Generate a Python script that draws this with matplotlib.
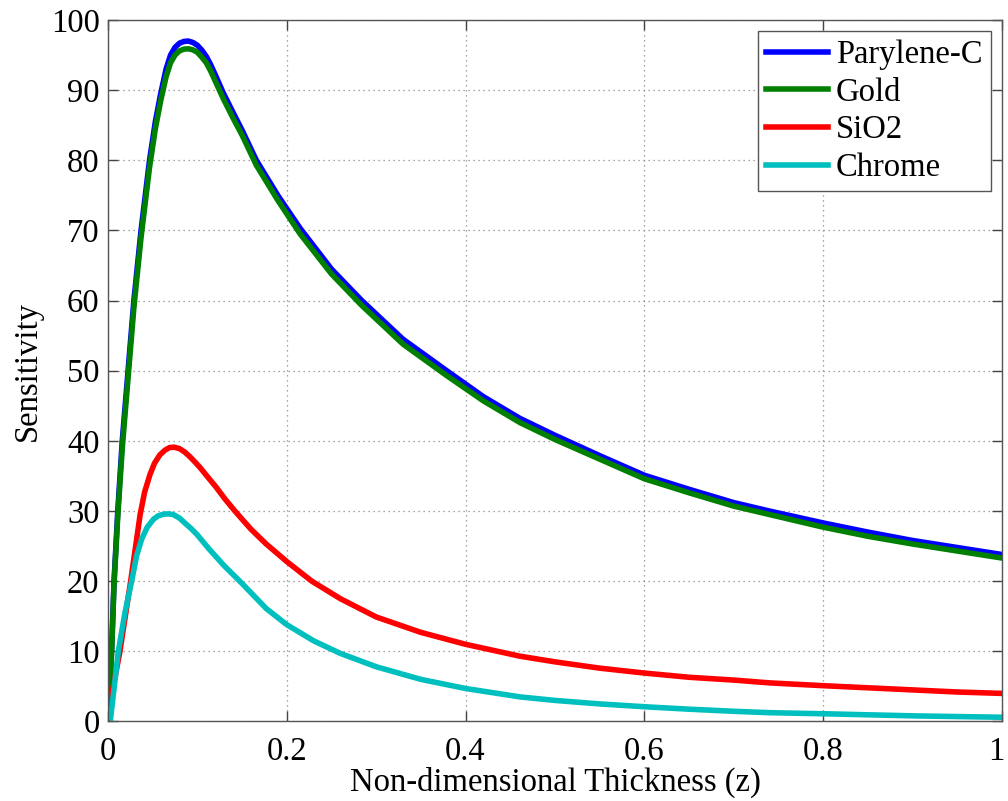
import numpy as np
import matplotlib
matplotlib.use('Agg')
import matplotlib.pyplot as plt
import matplotlib.transforms as mtransforms

# values
z_parylene = [0.0, 0.004, 0.0068, 0.011, 0.016, 0.0225, 0.029, 0.037, 0.0465, 0.053,
              0.059, 0.065, 0.07, 0.075, 0.08, 0.085, 0.09, 0.095, 0.10, 0.105,
              0.11, 0.115, 0.12, 0.129, 0.14, 0.15, 0.166, 0.19, 0.215, 0.25,
              0.284, 0.33, 0.379, 0.42, 0.461, 0.5, 0.55, 0.6, 0.65, 0.7, 0.74,
              0.8, 0.85, 0.9, 0.95, 1.0]
s_parylene = [0.0, 10, 20, 30, 40, 50, 60, 70, 80, 85.5,
              89.5, 93.0, 95.0, 96.1, 96.7, 96.95, 97.0, 96.8, 96.4, 95.7,
              94.8, 93.6, 92.2, 89.6, 86.8, 84.3, 80, 75, 70.3, 64.5,
              60, 54.5, 50, 46.3, 43.2, 40.8, 37.9, 35.1, 33.1, 31.2, 30,
              28.3, 27.0, 25.8, 24.8, 23.8]

z_gold = z_parylene
s_gold = [0.0, 9.5, 19.5, 29.3, 39, 49, 59, 69, 79, 84.5,
          88.5, 91.9, 93.9, 95.0, 95.6, 95.85, 95.9, 95.75, 95.4, 94.7,
          93.9, 92.7, 91.3, 88.8, 86.0, 83.6, 79.3, 74.3, 69.5, 63.8,
          59.3, 53.8, 49.3, 45.7, 42.6, 40.2, 37.4, 34.6, 32.6, 30.7, 29.5,
          27.7, 26.4, 25.3, 24.3, 23.3]

z_sio2 = [0.0, 0.003, 0.0134, 0.0254, 0.031, 0.036, 0.041, 0.047, 0.052, 0.058,
          0.064, 0.069, 0.074, 0.08, 0.086, 0.092, 0.098, 0.103, 0.11, 0.121,
          0.131, 0.142, 0.16, 0.177, 0.2, 0.228, 0.26, 0.3, 0.35, 0.4, 0.461,
          0.5, 0.55, 0.6, 0.65, 0.7, 0.74, 0.8, 0.85, 0.9, 0.95, 1.0]
s_sio2 = [0.0, 3, 10, 20, 25, 29.5, 32.7, 35.2, 36.8, 38.0,
          38.7, 39.05, 39.1, 38.9, 38.4, 37.7, 36.9, 36.2, 35.1, 33.4,
          31.7, 30, 27.4, 25.3, 22.8, 20, 17.5, 14.9, 12.7, 11.0, 9.3,
          8.5, 7.6, 6.9, 6.3, 5.9, 5.5, 5.1, 4.8, 4.5, 4.2, 4.0]

z_chrome = [0.003, 0.0116, 0.019, 0.0265, 0.032, 0.0377, 0.044, 0.0507, 0.056,
            0.062, 0.0675, 0.073, 0.08, 0.0868, 0.093, 0.1, 0.113, 0.13, 0.149,
            0.177, 0.2, 0.23, 0.26, 0.3, 0.35, 0.4, 0.461, 0.5, 0.55, 0.6, 0.65,
            0.7, 0.74, 0.8, 0.85, 0.9, 0.95, 1.0]
s_chrome = [0.5, 10, 15.5, 20, 23.6, 26.0, 27.7, 28.8, 29.3,
            29.55, 29.6, 29.5, 29.0, 28.2, 27.5, 26.6, 24.6, 22.2, 19.8,
            16.1, 13.8, 11.5, 9.7, 7.8, 6.0, 4.7, 3.5, 3.0, 2.5, 2.1, 1.75,
            1.45, 1.25, 1.1, 0.95, 0.8, 0.7, 0.6]

series = [
    ('Parylene-C', z_parylene, s_parylene, '#0000ff'),
    ('Gold', z_gold, s_gold, '#008000'),
    ('SiO2', z_sio2, s_sio2, '#ff0000'),
    ('Chrome', z_chrome, s_chrome, '#00bfbf'),
]

plt.rcParams['font.family'] = ['Liberation Serif', 'DejaVu Serif']
FS = 23.5

fig = plt.figure(figsize=(10.08, 8.01), dpi=100)
ax = fig.add_axes([0.1071, 0.0993, 0.8869, 0.8757])

for name, z, s, c in series:
    ax.plot(z, s, color=c, linewidth=4, label=name, solid_joinstyle='round')

ax.set_xlim(0, 1)
ax.set_ylim(0, 100)
ax.set_xticks([0, 0.2, 0.4, 0.6, 0.8, 1.0])
ax.set_xticklabels(['0', '0.2', '0.4', '0.6', '0.8', '1'])
ax.set_yticks(np.arange(0, 101, 10))
ax.grid(True, linestyle=(0, (1, 3)), color='#888888', linewidth=0.9)
ax.tick_params(direction='in', length=7, width=1, color='#444444',
               top=True, right=True, labelsize=FS)
ax.tick_params(axis='x', pad=11)
ax.tick_params(axis='y', pad=6)
for sp in ax.spines.values():
    sp.set_color('#555555')
    sp.set_linewidth(1.0)

# nudge the last x tick label so it stays inside the figure
last = ax.get_xticklabels()[-1]
last.set_transform(last.get_transform() +
                   mtransforms.ScaledTranslation(-4 / 72, 0, fig.dpi_scale_trans))

ax.set_xlabel('Non-dimensional Thickness (z)', fontsize=FS, labelpad=0)
ax.set_ylabel('Sensitivity', fontsize=FS, labelpad=6)

leg = ax.legend(loc='upper right', fontsize=FS, handlelength=1.9,
                handletextpad=0.25, labelspacing=0.22, borderpad=0.25,
                borderaxespad=0.35, fancybox=False, framealpha=1)
leg.get_frame().set_edgecolor('#555555')
leg.get_frame().set_linewidth(1.0)

plt.savefig('out.png', dpi=100)
